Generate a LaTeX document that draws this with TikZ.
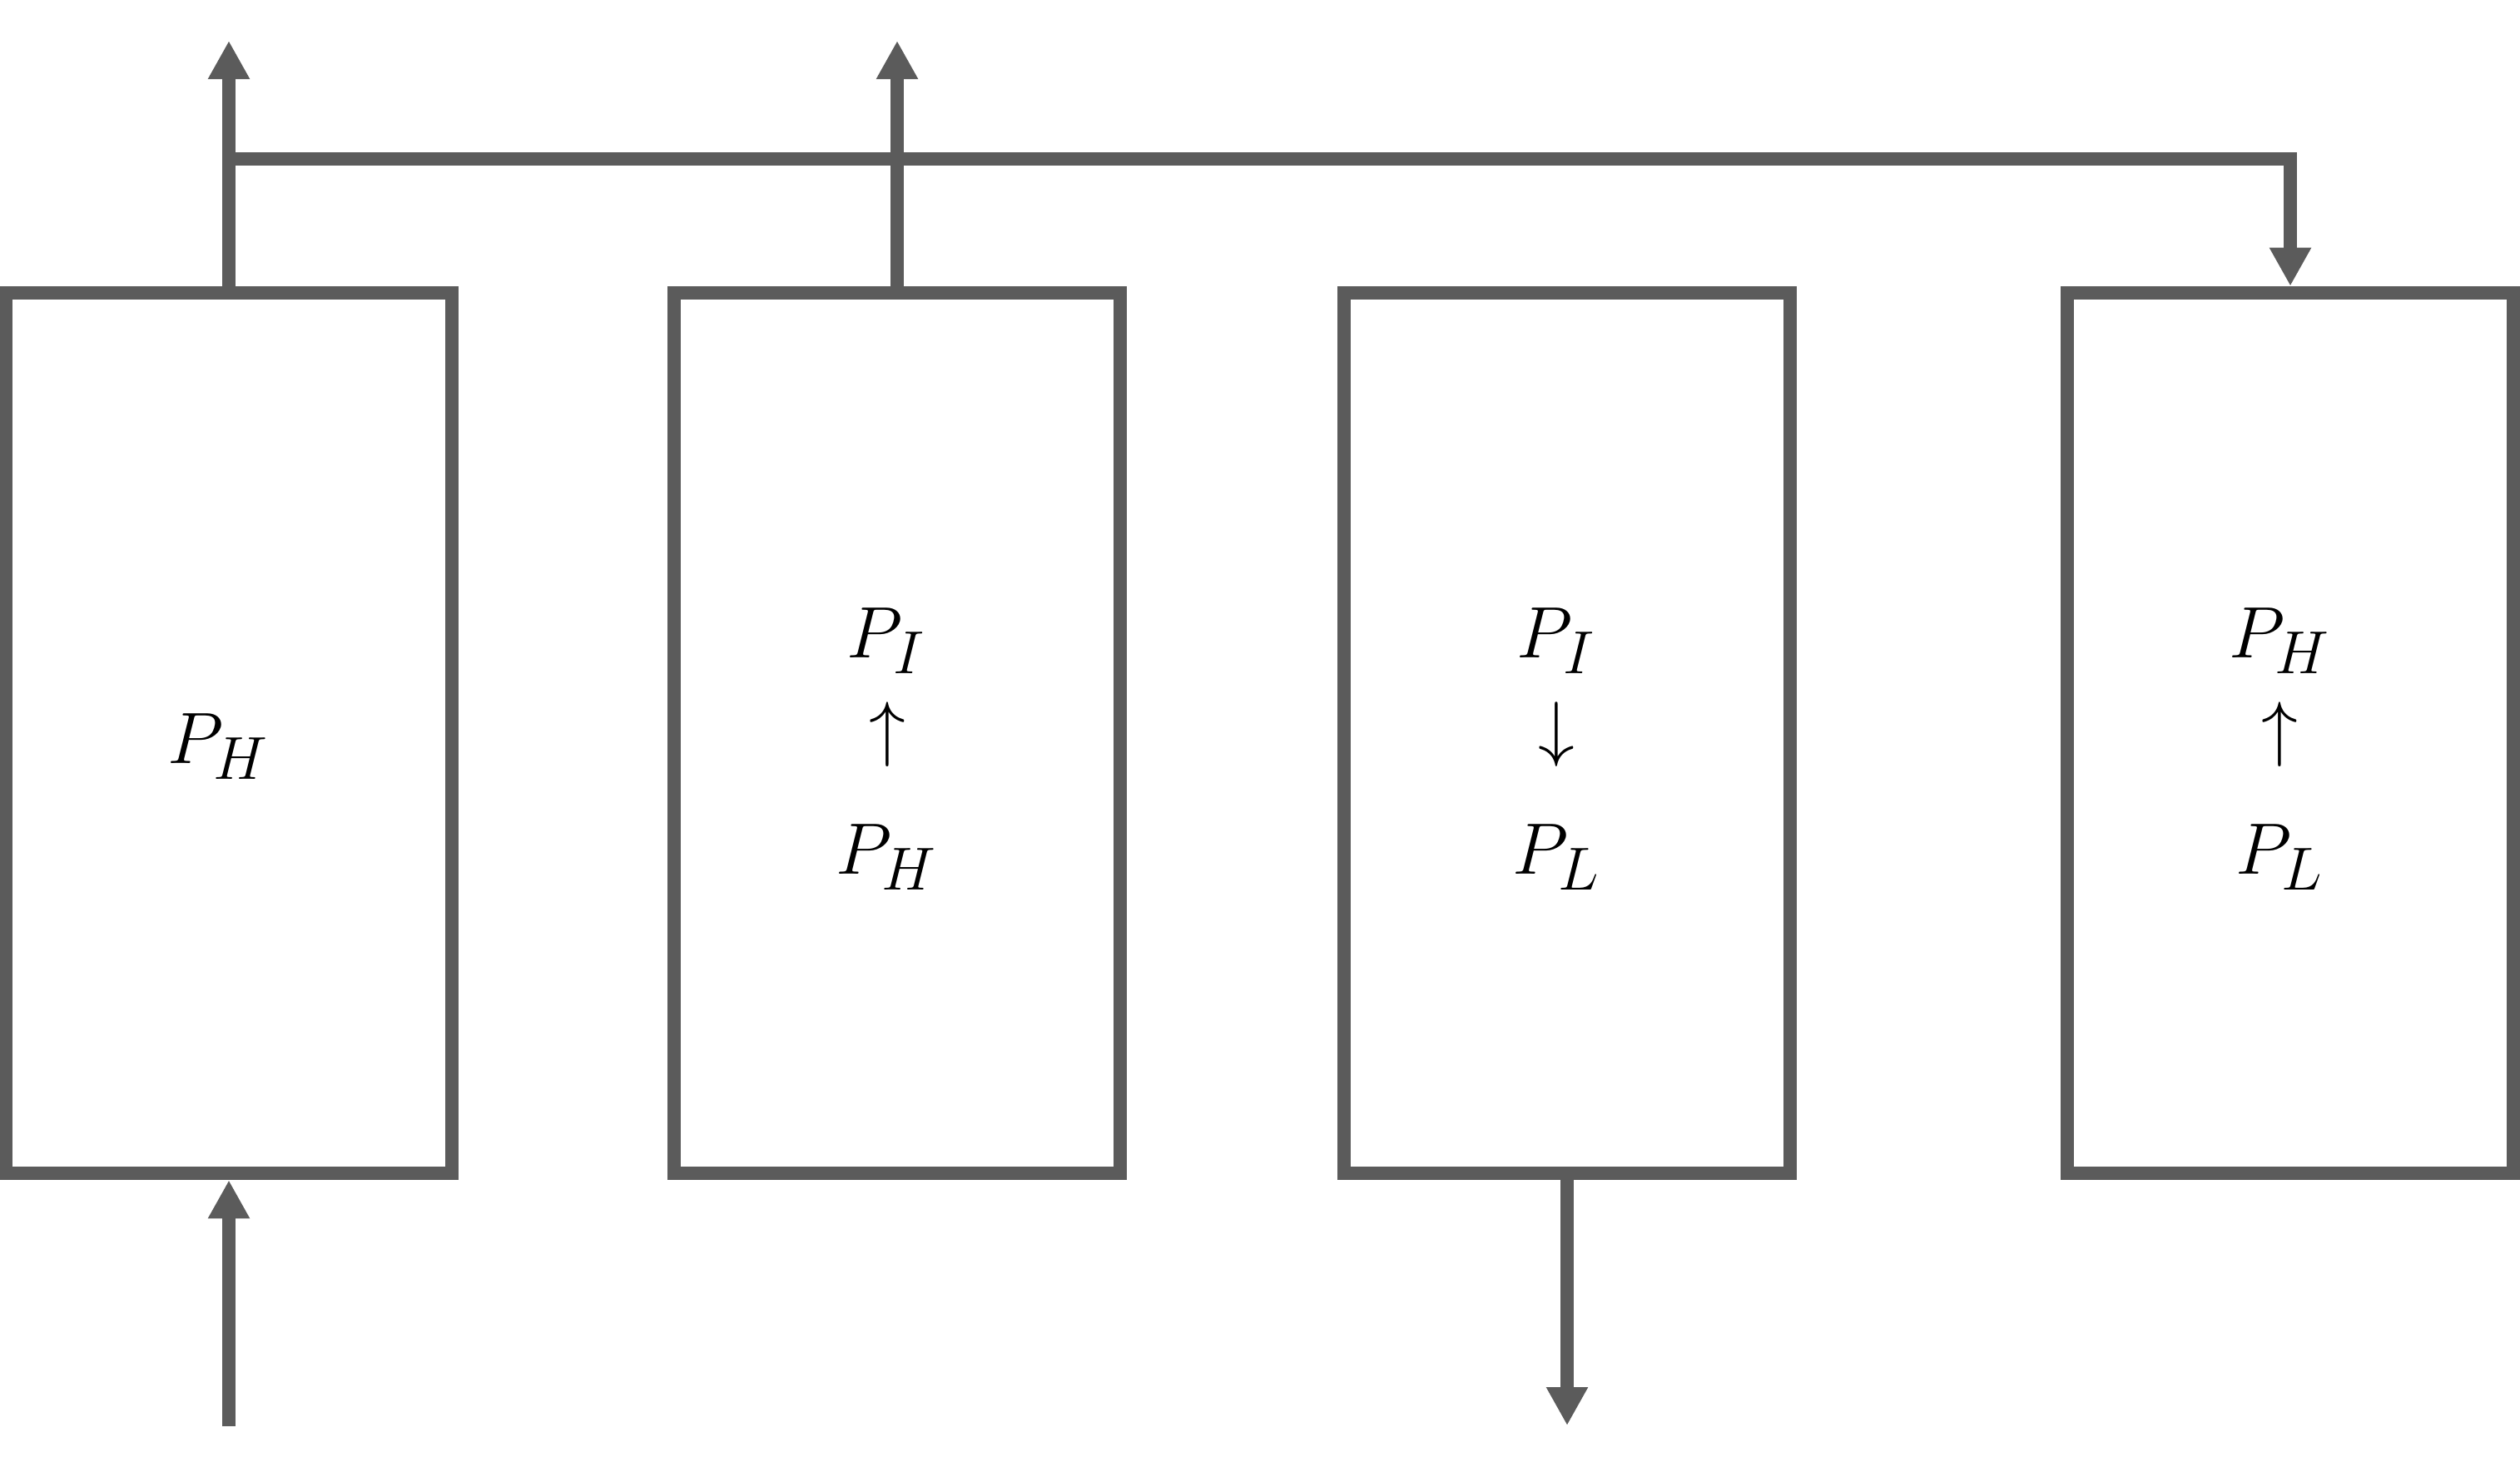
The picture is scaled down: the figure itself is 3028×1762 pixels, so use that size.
\documentclass[tikz,border=0pt]{standalone}
\usetikzlibrary{arrows.meta}
\definecolor{linegray}{HTML}{5B5B5B}
\tikzset{
  tank/.style={draw=linegray, line width=4.55pt, minimum width=5.35cm, minimum height=10.58cm, inner sep=0pt},
  flow/.style={draw=linegray, line width=4.4pt, -{Triangle[length=4.6mm,width=4.7mm]}},
  pipe/.style={draw=linegray, line width=4.55pt},
  lbl/.style={font=\fontsize{29}{35}\selectfont, inner sep=0pt, anchor=base},
  arr/.style={font=\fontsize{29}{35}\selectfont, inner sep=0pt}
}
\begin{document}
\begin{tikzpicture}[x=0.01cm,y=-0.01cm]
\useasboundingbox (0,0) rectangle (3028,1762);
% boxes
\node[tank] (b1) at (275,881) {};
\node[tank] (b2) at (1078,881) {};
\node[tank] (b3) at (1883,881) {};
\node[tank] (b4) at (2752,881) {};
% labels
\node[lbl] (t1) at (262,917) {$P_H$};
\node[lbl] (t2a) at (1065,790) {$P_I$};
\node[arr] (t2b) at (1066,883) {$\uparrow$};
\node[lbl] (t2c) at (1065,1050) {$P_H$};
\node[lbl] (t3a) at (1870,790) {$P_I$};
\node[arr] (t3b) at (1870,883) {$\downarrow$};
\node[lbl] (t3c) at (1870,1050) {$P_L$};
\node[lbl] (t4a) at (2739,790) {$P_H$};
\node[arr] (t4b) at (2739,883) {$\uparrow$};
\node[lbl] (t4c) at (2739,1050) {$P_L$};
% free ends
\coordinate (top1) at (275,49);
\coordinate (top2) at (1078,49);
\coordinate (j1) at (275,191);
\coordinate (in1) at (275,1714);
\coordinate (out3) at (1883,1713);
% connectors
\draw[flow] (b1.north) -- (top1);
\draw[flow] (b2.north) -- (top2);
\draw[flow] (j1) -- (j1 -| b4.north) -- (b4.north);
\draw[flow] (in1) -- (b1.south);
\draw[flow] (b3.south) -- (out3);
\end{tikzpicture}
\end{document}
